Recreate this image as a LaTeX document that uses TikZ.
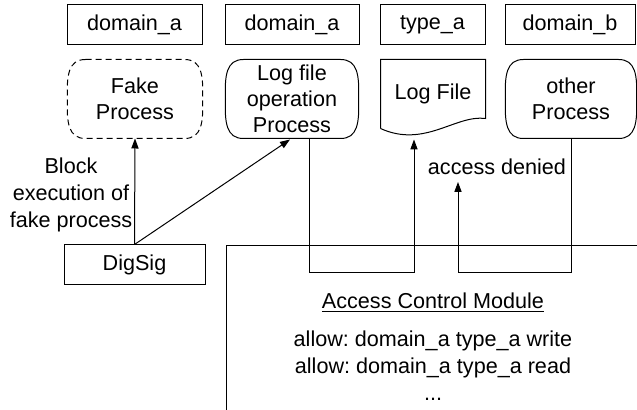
\documentclass[tikz,border=0pt]{standalone}
\usepackage{fontspec}
\setmainfont{Liberation Sans}
\usetikzlibrary{arrows.meta,calc}
\frenchspacing

% outline with bulging left and right sides
\newcommand\bulgeframe[2][]{%
  \draw[#1] ($(#2.north west)+(18,0)$) -- ($(#2.north east)+(-18,0)$)
    .. controls ($(#2.north east)+(-1,0)$) and ($(#2.east)+(1,-24)$) .. (#2.east)
    .. controls ($(#2.east)+(1,24)$) and ($(#2.south east)+(-1,0)$) .. ($(#2.south east)+(-18,0)$)
    -- ($(#2.south west)+(18,0)$)
    .. controls ($(#2.south west)+(1,0)$) and ($(#2.west)+(-1,24)$) .. (#2.west)
    .. controls ($(#2.west)+(-1,-24)$) and ($(#2.north west)+(1,0)$) .. cycle;}

\begin{document}
\begin{tikzpicture}[x=0.5pt, y=-0.5pt, line width=0.5pt,
    font=\fontsize{10.8}{13}\selectfont,
    label/.style={draw, minimum height=20pt, inner sep=0pt},
    proc/.style={minimum width=65pt, minimum height=39pt, inner sep=0pt, align=center},
    flow/.style={-{Triangle[length=5pt,width=3.6pt]}}]
    \clip (0,0) rectangle (637,410);

    % domain / type labels
    \node[label, minimum width=67.5pt] (doma) at (134.5,25) {domain\_a};
    \node[label, minimum width=67pt] (domb) at (292,25) {domain\_a};
    \node[label, minimum width=52.5pt] (typa) at (432.5,25) {type\_a};
    \node[label, minimum width=65pt] (domc) at (570,25) {domain\_b};

    % processes and the log file
    \node[proc, minimum width=67pt] (fake) at (135,99) {Fake\\Process};
    \bulgeframe[dashed, dash pattern=on 3pt off 2pt]{fake}
    \node[proc, minimum width=66pt] (logproc) at (292,99) {Log file\\operation\\Process};
    \bulgeframe{logproc}
    \node[proc, minimum width=52pt, minimum height=34pt] (logfile) at (433,94) {Log File};
    \draw (logfile.south west) -- (logfile.north west) -- (logfile.north east)
        -- ($(logfile.south east)+(0,-10)$)
        .. controls ($(logfile.south east)+(-30,-14)$) and ($(logfile.south west)+(44,20)$)
        .. (logfile.south west);
    \node[proc] (other) at (571,99) {other\\Process};
    \bulgeframe{other}

    % signature check
    \node[label, minimum width=70.5pt] (digsig) at (134.5,265) {DigSig};
    \node[align=center, inner sep=0pt] (block) at (71,195)
        {Block\\[0.5pt]execution of\\[0.5pt]fake process};
    \draw[flow] (digsig.north) -- (fake.south);
    \draw[flow] (digsig.north) -- ($(logproc.south)+(-2,1)$);

    % access control module
    \node[draw, anchor=north west, minimum width=240pt, minimum height=120pt] (acm) at (226,245) {};
    \node (acmtitle) at (433,303) {\underline{Access Control Module}};
    \node[align=center, inner sep=0pt] (rules) at (433,366)
        {allow: domain\_a type\_a write\\[0.5pt]allow: domain\_a type\_a read\\[0.5pt]...};
    \node (denied) at (497,167) {access denied};
    \coordinate (deny) at (458,182);

    \draw[flow] ($(logproc.south)+(17,0)$) -- ++(0,134) -| ($(logfile.south)+(-19,11)$);
    \draw[flow] (other.south) -- ++(0,134) -| (deny);
\end{tikzpicture}
\end{document}
